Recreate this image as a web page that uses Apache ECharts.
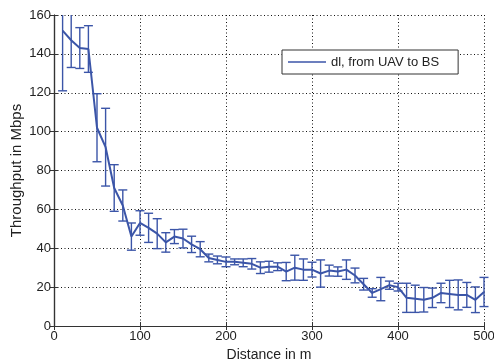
<!DOCTYPE html>
<html>
<head>
<meta charset="utf-8">
<script src="https://cdn.jsdelivr.net/npm/echarts@6/dist/echarts.min.js"></script>
<style>
  html, body { margin: 0; padding: 0; background: #fff; }
  #chart { width: 494px; height: 359px; }
</style>
</head>
<body>
<div id="chart"></div>
<script>
// distance in m (one point every 10 m)
const distances = [10, 20, 30, 40, 50, 60, 70, 80, 90, 100,
  110, 120, 130, 140, 150, 160, 170, 180, 190, 200,
  210, 220, 230, 240, 250, 260, 270, 280, 290, 300,
  310, 320, 330, 340, 350, 360, 370, 380, 390, 400,
  410, 420, 430, 440, 450, 460, 470, 480, 490, 500]
// mean throughput in Mbps
const throughput = [152, 147, 143, 142.5, 102, 92, 71, 62, 46, 53,
  50.5, 47.5, 43, 46, 45, 42, 39.5, 35, 34, 33,
  33, 32.5, 32, 30, 30.5, 30.5, 28, 30, 29, 29,
  27, 28.5, 28, 29, 26, 21.5, 17, 19, 21, 20,
  14.5, 14, 13.5, 14.5, 17, 16.5, 16, 16, 13.5, 17.5]
// half length of each error bar
const errors = [31, 14, 10.5, 12, 17.5, 20, 12, 8, 7, 6.3,
  7.5, 7.7, 5, 3.6, 4.8, 4.2, 3.9, 2, 2, 2.5,
  1.5, 2, 2.7, 3, 2.8, 2, 4.7, 6.4, 5.5, 3.8,
  7, 2.8, 2.4, 5, 3.8, 3, 2.2, 6, 2.1, 2,
  7.5, 7, 6.3, 5, 5, 7, 7.7, 6.4, 6.6, 7.5]
const xTicks = { min: 0, max: 500, interval: 100 }
const yTicks = { min: 0, max: 160, interval: 20 }
const seriesName = 'dl, from UAV to BS'

const blue = '#3b55a8'
const axisColor = '#333'
const font = 'Liberation Sans'

const lineData = distances.map((d, i) => [d, throughput[i]])
const barData = distances.map((d, i) => [d, throughput[i] - errors[i], throughput[i] + errors[i]])

const chart = echarts.init(document.getElementById('chart'))

const gridLine = { show: true, lineStyle: { color: '#111', type: [1, 2.5], width: 1 } }
const frameAxis = {
  axisLine: { show: true, lineStyle: { color: axisColor, width: 1.2 } },
  axisTick: { show: true, inside: true, length: 4, lineStyle: { color: axisColor } },
  axisLabel: { show: false },
  splitLine: { show: false }
}

const option = {
  animation: false,
  grid: { left: 54, right: 10, top: 15, bottom: 33, containLabel: false, outerBoundsMode: 'none' },
  legend: {
    data: [{ name: seriesName, icon: 'rect' }],
    left: 282,
    top: 50,
    orient: 'vertical',
    backgroundColor: '#fff',
    borderColor: '#333',
    borderWidth: 1,
    borderRadius: 0,
    padding: [5, 19, 5, 6],
    itemWidth: 38,
    itemHeight: 1.5,
    itemGap: 0,
    itemStyle: { color: blue },
    textStyle: { fontFamily: font, fontSize: 13, color: '#222', lineHeight: 14 }
  },
  xAxis: [
    {
      type: 'value', position: 'bottom', ...xTicks,
      name: 'Distance in m', nameLocation: 'middle', nameGap: 22,
      nameMoveOverlap: false,
      nameTextStyle: { fontFamily: font, fontSize: 14, color: '#222' },
      axisLine: { show: true, lineStyle: { color: axisColor, width: 1.2 } },
      axisTick: { show: true, inside: true, length: 4, lineStyle: { color: axisColor } },
      axisLabel: { fontFamily: font, fontSize: 13, color: '#222', margin: 4 },
      splitLine: gridLine
    },
    { type: 'value', position: 'top', ...xTicks, ...frameAxis }
  ],
  yAxis: [
    {
      type: 'value', position: 'left', ...yTicks,
      name: 'Throughput in Mbps', nameLocation: 'middle', nameGap: 30,
      nameMoveOverlap: false,
      nameTextStyle: { fontFamily: font, fontSize: 15, color: '#222' },
      axisLine: { show: true, lineStyle: { color: axisColor, width: 1.2 } },
      axisTick: { show: true, inside: true, length: 4, lineStyle: { color: axisColor } },
      axisLabel: { fontFamily: font, fontSize: 13, color: '#222', margin: 3 },
      splitLine: gridLine
    },
    { type: 'value', position: 'right', ...yTicks, ...frameAxis }
  ],
  series: [
    {
      name: seriesName,
      type: 'line',
      data: lineData,
      symbol: 'none',
      lineStyle: { color: blue, width: 2 },
      itemStyle: { color: blue },
      z: 3
    },
    {
      name: 'errorbars',
      type: 'custom',
      data: barData,
      encode: { x: 0, y: [1, 2] },
      z: 2,
      renderItem: (params, api) => {
        const x = api.value(0)
        const top = api.coord([x, api.value(2)])
        const bot = api.coord([x, api.value(1)])
        const cs = params.coordSys
        const yTop = Math.max(top[1], cs.y)
        const yBot = Math.min(bot[1], cs.y + cs.height)
        const w = 4.5
        const style = { stroke: blue, lineWidth: 1.4 }
        const children = [
          { type: 'line', shape: { x1: top[0], y1: yTop, x2: top[0], y2: yBot }, style }
        ]
        if (top[1] >= cs.y) {
          children.push({ type: 'line', shape: { x1: top[0] - w, y1: top[1], x2: top[0] + w, y2: top[1] }, style })
        }
        if (bot[1] <= cs.y + cs.height) {
          children.push({ type: 'line', shape: { x1: bot[0] - w, y1: bot[1], x2: bot[0] + w, y2: bot[1] }, style })
        }
        return { type: 'group', children }
      }
    }
  ]
}

chart.setOption(option)
</script>
</body>
</html>
